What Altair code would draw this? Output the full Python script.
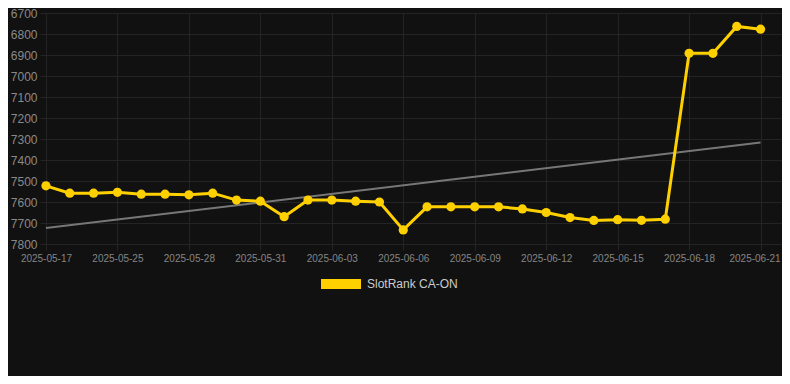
import json
import altair as alt
import pandas as pd

dates = [
    "2025-05-17", "2025-05-23", "2025-05-24", "2025-05-25", "2025-05-26", "2025-05-27",
    "2025-05-28", "2025-05-29", "2025-05-30", "2025-05-31", "2025-06-01", "2025-06-02",
    "2025-06-03", "2025-06-04", "2025-06-05", "2025-06-06", "2025-06-07", "2025-06-08",
    "2025-06-09", "2025-06-10", "2025-06-11", "2025-06-12", "2025-06-13", "2025-06-14",
    "2025-06-15", "2025-06-16", "2025-06-17", "2025-06-18", "2025-06-19", "2025-06-20",
    "2025-06-21",
]
ranks = [
    7523, 7558, 7558, 7554, 7563, 7563, 7566, 7558, 7591, 7596, 7670, 7591,
    7591, 7596, 7600, 7733, 7623, 7623, 7623, 7623, 7633, 7650, 7674, 7688,
    7684, 7687, 7682, 6892, 6892, 6764, 6777,
]
trend_dates = ["2025-05-17", "2025-06-21"]
trend_values = [7724, 7317]
series_name = "SlotRank CA-ON"
series_color = "#FFD000"
y_ticks = [6700, 6800, 6900, 7000, 7100, 7200, 7300, 7400, 7500, 7600, 7700, 7800]

df = pd.DataFrame({"idx": range(len(dates)), "date": dates, "rank": ranks, "series": series_name})
tdf = pd.DataFrame({"idx": [dates.index(d) for d in trend_dates], "rank": trend_values})

label_expr = json.dumps(dates) + "[datum.value]"
x_vals = list(range(0, len(dates), 3))
last = len(dates) - 1

grid = "#242424"
x = alt.X("idx:Q", scale=alt.Scale(domain=[-0.25, 30.9], nice=False, zero=False),
          axis=alt.Axis(values=x_vals, labelExpr=label_expr, title=None, grid=True,
                        gridColor=grid, domain=False, tickColor=grid, tickSize=6,
                        labelColor="#858585", labelFontSize=10, labelPadding=3,
                        labelFont="Liberation Sans",
                        labelOffset={"expr": f"datum.value == {last} ? -6 : 0"}))
y = alt.Y("rank:Q", scale=alt.Scale(domain=[6700, 7800], reverse=True, nice=False, zero=False),
          axis=alt.Axis(values=y_ticks, format="d", title=None, grid=True, gridColor=grid,
                        domain=False, ticks=False, labelColor="#8a8a8a", labelFontSize=12,
                        labelPadding=3, labelFont="Liberation Sans"))

color_leg = alt.Color("series:N", scale=alt.Scale(domain=[series_name], range=[series_color]),
                      legend=alt.Legend(title=None, orient="none", legendX=281, legendY=251,
                                        symbolType="M-1,-0.25H1V0.25H-1Z", symbolSize=1600,
                                        symbolStrokeWidth=0, symbolOpacity=1,
                                        labelColor="#cccccc", labelFontSize=12,
                                        labelFont="Liberation Sans", labelOffset=6))

trend = alt.Chart(tdf).mark_line(color="#777777", strokeWidth=2).encode(x=x, y=y)
line = alt.Chart(df).mark_line(strokeWidth=3, color=series_color).encode(x=x, y=y)
pts = alt.Chart(df).mark_circle(size=85, opacity=1).encode(x=x, y=y, color=color_leg)

chart = alt.layer(trend, line, pts).properties(
    width=742, height=231, background="#111111",
    padding={"left": 32, "top": 5, "right": 0, "bottom": 132},
    autosize=alt.AutoSizeParams(type="none"),
).configure_view(stroke=None)

chart.save("out.html", embed_options={"renderer": "svg", "actions": False})
